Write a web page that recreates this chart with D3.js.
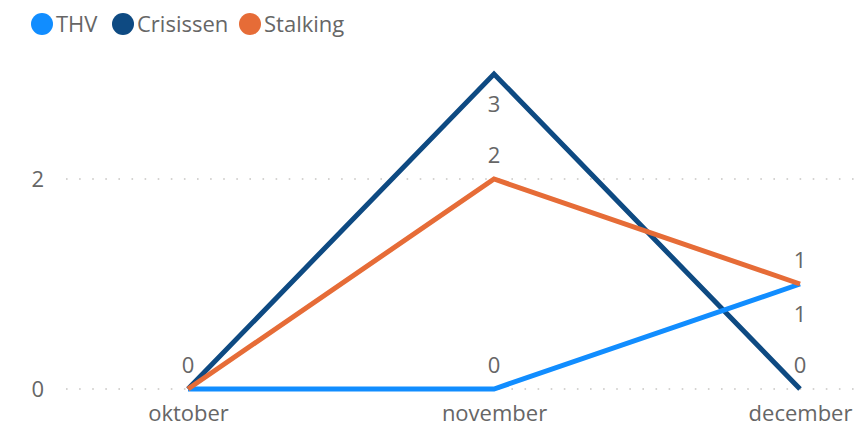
<!DOCTYPE html>
<html lang="nl">
<head>
<meta charset="UTF-8">
<script src="https://cdn.jsdelivr.net/npm/d3@7"></script>
<title>Chart</title>
<style>
  body { margin: 0; background: #fff; }
  text { font-family: "Open Sans", "Noto Sans", sans-serif; fill: #666666; }
</style>
</head>
<body>
<svg id="chart" width="859" height="427"></svg>
<script>
// data
const months = ["oktober", "november", "december"];
const seriesNames = ["THV", "Crisissen", "Stalking"];
const thv = [0, 0, 1];
const crisissen = [0, 3, 0];
const stalking = [0, 2, 1];
const yTicks = [0, 2];

const colors = { "THV": "#118DFF", "Crisissen": "#0E4A82", "Stalking": "#E66C37" };
const values = { "THV": thv, "Crisissen": crisissen, "Stalking": stalking };

// which labels show and where (above / below the point); null = hidden
const labelPlace = {
  "THV":       [null,    "above", "below"],
  "Crisissen": [null,    "below", "above"],
  "Stalking":  ["above", "above", "above"]
};

const fontSize = 22;
const svg = d3.select("svg#chart");

const x = d3.scalePoint().domain(months).range([188, 800]);
const y = d3.scaleLinear().domain([0, 3]).range([389, 74]);

// gridlines (dotted)
const grid = svg.append("g").attr("class", "grid");
grid.selectAll("line")
  .data(yTicks)
  .join("line")
    .attr("x1", 66).attr("x2", 856)
    .attr("y1", d => y(d)).attr("y2", d => y(d))
    .attr("stroke", "#C8C6C4")
    .attr("stroke-width", 1.6)
    .attr("stroke-dasharray", "1.6 11.5");

// y axis labels
const yAxis = d3.axisLeft(y).tickValues(yTicks).tickFormat(d3.format("d")).tickSize(0).tickPadding(0);
svg.append("g")
  .attr("transform", "translate(44,0)")
  .call(yAxis)
  .call(g => g.select(".domain").remove())
  .selectAll("text")
    .attr("font-size", fontSize)
    .attr("fill", "#666666");

// x axis labels
const xAxis = d3.axisBottom(x).tickSize(0).tickPadding(0);
svg.append("g")
  .attr("transform", "translate(0,405)")
  .call(xAxis)
  .call(g => g.select(".domain").remove())
  .selectAll("text")
    .attr("font-size", fontSize)
    .attr("fill", "#666666");

svg.selectAll(".tick text").style("font-family", "'Open Sans', 'Noto Sans', sans-serif");

// lines
const lineGen = d3.line()
  .x((d, i) => x(months[i]))
  .y(d => y(d));

const drawOrder = ["Crisissen", "THV", "Stalking"];
const lines = svg.append("g").attr("class", "lines");
drawOrder.forEach(name => {
  lines.append("path")
    .datum(values[name])
    .attr("fill", "none")
    .attr("stroke", colors[name])
    .attr("stroke-width", 5)
    .attr("stroke-linejoin", "miter")
    .attr("d", lineGen);
});

// data labels
const labels = svg.append("g").attr("class", "labels");
seriesNames.forEach(name => {
  values[name].forEach((v, i) => {
    const place = labelPlace[name][i];
    if (!place) return;
    labels.append("text")
      .attr("x", x(months[i]))
      .attr("y", place === "above" ? y(v) - 16 : y(v) + 38)
      .attr("text-anchor", "middle")
      .attr("font-size", fontSize)
      .text(v);
  });
});

// legend
const legendX = [42, 123, 250];
const legend = svg.append("g").attr("class", "legend");
seriesNames.forEach((name, i) => {
  legend.append("circle")
    .attr("cx", legendX[i]).attr("cy", 24).attr("r", 11)
    .attr("fill", colors[name]);
  legend.append("text")
    .attr("x", legendX[i] + 14).attr("y", 32)
    .attr("font-size", fontSize)
    .text(name);
});
</script>
</body>
</html>
